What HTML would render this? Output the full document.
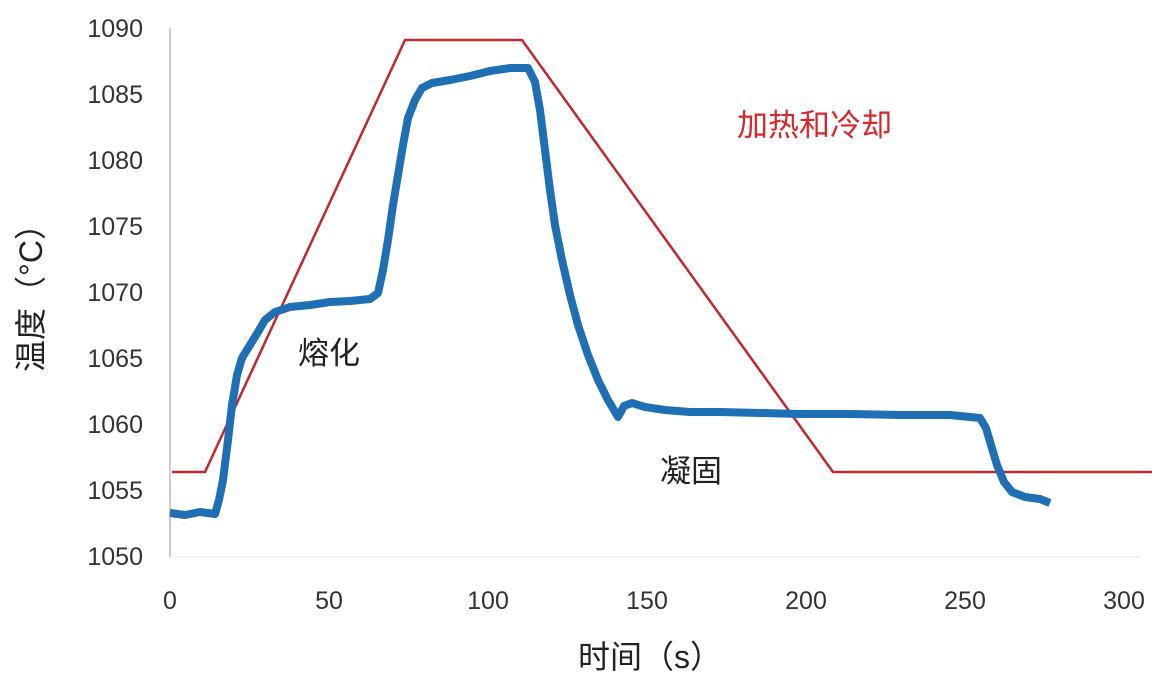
<!DOCTYPE html>
<html><head><meta charset="utf-8"><style>
html,body{margin:0;padding:0;background:#fff;}
svg text{font-family:"Liberation Sans","Noto Sans CJK SC",sans-serif;}
</style></head><body>
<svg width="1172" height="693" viewBox="0 0 1172 693" xmlns="http://www.w3.org/2000/svg">
<rect width="1172" height="693" fill="#fff"/>
<line x1="170" y1="28" x2="170" y2="557" stroke="#bbb" stroke-width="1.5"/>
<line x1="170" y1="557" x2="1140" y2="557" stroke="#e4e4e4" stroke-width="1"/>
<g font-size="25" fill="#333" text-anchor="end">
<text x="143" y="37">1090</text>
<text x="143" y="103">1085</text>
<text x="143" y="169">1080</text>
<text x="143" y="235">1075</text>
<text x="143" y="301">1070</text>
<text x="143" y="367">1065</text>
<text x="143" y="433">1060</text>
<text x="143" y="499">1055</text>
<text x="143" y="565">1050</text>
</g>
<g font-size="25" fill="#333" text-anchor="middle">
<text x="170" y="609">0</text>
<text x="329" y="609">50</text>
<text x="488" y="609">100</text>
<text x="647" y="609">150</text>
<text x="806" y="609">200</text>
<text x="965" y="609">250</text>
<text x="1124" y="609">300</text>
</g>
<text x="650" y="668" font-size="32" fill="#222" text-anchor="middle">时间（s）</text>
<text transform="translate(42,290) rotate(-90)" font-size="32" fill="#222" text-anchor="middle">温度（°C）</text>
<polyline fill="none" stroke="#c0282d" stroke-width="2.5" points="172,472 205,472 405,40 522,40 833,472 1152,472"/>
<polyline fill="none" stroke="#1f6fb5" stroke-width="8" stroke-linejoin="round" points="170,513 185,515 200,512 215,514 219,500 223,480 228,440 232,405 237,375 242,358 250,345 258,332 265,320 275,312 290,307 310,305 330,302 350,301 370,299 378,293 383,270 388,240 393,205 398,175 403,145 408,118 415,100 422,88 432,83 450,80 470,76 490,71 510,68 528,68 535,82 540,110 545,150 550,190 555,225 562,260 570,295 578,325 588,355 598,380 608,400 618,417 624,406 632,403 645,407 665,410 690,412 720,412 760,413 800,414 850,414 900,415 950,415 980,418 986,428 991,445 997,465 1004,482 1012,492 1025,497 1040,499 1050,503"/>
<text x="737" y="136" font-size="31" fill="#d9262c">加热和冷却</text>
<text x="298" y="364" font-size="31" fill="#222">熔化</text>
<text x="660" y="482" font-size="31" fill="#222">凝固</text>
</svg>
</body></html>
